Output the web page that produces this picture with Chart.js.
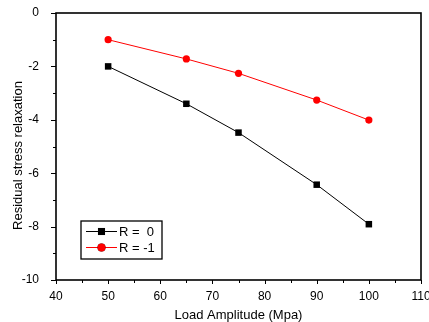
<!DOCTYPE html>
<html>
<head>
<meta charset="utf-8">
<script src="https://cdn.jsdelivr.net/npm/chart.js@4"></script>
<style>
html,body{margin:0;padding:0;background:#fff;}
#wrap{width:429px;height:322px;}
</style>
</head>
<body>
<div id="wrap"><canvas id="c" width="429" height="322"></canvas></div>
<script>
// ---- data ----
const loadAmplitude = [50, 65, 75, 90, 100];
const seriesR0 = [-2.0, -3.40, -4.48, -6.43, -7.91];
const seriesRm1 = [-1.0, -1.72, -2.26, -3.26, -4.01];
const seriesLabels = ['R =  0', 'R = -1'];
const xTickValues = [40, 50, 60, 70, 80, 90, 100, 110];
const yTickValues = [0, -2, -4, -6, -8, -10];
const xTitle = 'Load Amplitude (Mpa)';
const yTitle = 'Residual stress relaxation';

const FONT = '"Liberation Sans", Arial, sans-serif';

function pts(xs, ys){ return xs.map((x,i)=>({x:x, y:ys[i]})); }

const framePlugin = {
  id: 'frame',
  afterDraw(chart){
    const ctx = chart.ctx, a = chart.chartArea;
    const xs = chart.scales.x, ys = chart.scales.y;
    ctx.save();
    ctx.strokeStyle = '#000';
    // ticks
    ctx.lineWidth = 1;
    const xmin = xTickValues[0], xmax = xTickValues[xTickValues.length-1];
    for (let v = xmin; v <= xmax; v += 5) {
      const px = Math.round(xs.getPixelForValue(v)) + 0.5;
      const len = (v % 10 === 0) ? 4 : 3;
      ctx.beginPath(); ctx.moveTo(px, a.bottom); ctx.lineTo(px, a.bottom + len); ctx.stroke();
    }
    const ymin = yTickValues[yTickValues.length-1], ymax = yTickValues[0];
    for (let v = ymin; v <= ymax; v += 1) {
      const py = Math.round(ys.getPixelForValue(v)) + 0.5;
      const len = (v % 2 === 0) ? 5 : 3;
      ctx.beginPath(); ctx.moveTo(a.left, py); ctx.lineTo(a.left - len, py); ctx.stroke();
    }
    // frame
    ctx.lineWidth = 1.6;
    ctx.strokeRect(a.left, a.top, a.right - a.left, a.bottom - a.top);
    // y title
    ctx.fillStyle = '#000';
    ctx.font = '13px ' + FONT;
    ctx.textAlign = 'center';
    ctx.textBaseline = 'middle';
    ctx.translate(18.5, 155.5);
    ctx.rotate(-Math.PI/2);
    ctx.fillText(yTitle, 0, 0);
    ctx.restore();

    // legend
    ctx.save();
    const lx = 81, ly = 221, lw = 81, lh = 38;
    ctx.fillStyle = '#fff';
    ctx.fillRect(lx, ly, lw, lh);
    ctx.strokeStyle = '#000';
    ctx.lineWidth = 1.3;
    ctx.strokeRect(lx, ly, lw, lh);
    const rows = [231, 247];
    chart.data.datasets.forEach((ds, i) => {
      const y = rows[i];
      ctx.strokeStyle = ds.borderColor;
      ctx.lineWidth = 1;
      ctx.beginPath(); ctx.moveTo(86, y + 0.5); ctx.lineTo(117, y + 0.5); ctx.stroke();
      Chart.helpers.drawPoint(ctx, {pointStyle: ds.pointStyle, rotation: 0, radius: ds.pointRadius + 0.4, borderWidth: 0}, 101.5, y + 0.5);
      ctx.fillStyle = ds.pointBackgroundColor;
      ctx.fill();
      ctx.fillStyle = '#000';
      ctx.font = '13px ' + FONT;
      ctx.textAlign = 'left';
      ctx.textBaseline = 'middle';
      ctx.fillText(ds.label, 119, y + 1);
    });
    ctx.restore();
  }
};

new Chart(document.getElementById('c'), {
  type: 'line',
  data: {
    datasets: [
      { label: seriesLabels[0], data: pts(loadAmplitude, seriesR0),
        borderColor: '#000000', backgroundColor: '#000000',
        pointBackgroundColor: '#000000', pointBorderColor: '#000000',
        pointStyle: 'rect', pointRadius: 4.6, pointBorderWidth: 0, borderWidth: 1, tension: 0 },
      { label: seriesLabels[1], data: pts(loadAmplitude, seriesRm1),
        borderColor: '#ff0000', backgroundColor: '#ff0000',
        pointBackgroundColor: '#ff0000', pointBorderColor: '#ff0000',
        pointStyle: 'circle', pointRadius: 3.6, pointBorderWidth: 0, borderWidth: 1, tension: 0 }
    ]
  },
  options: {
    responsive: false,
    animation: false,
    devicePixelRatio: 1,
    layout: { padding: { top: 13, right: 8, left: 0, bottom: 0 } },
    plugins: { legend: { display: false }, tooltip: { enabled: false } },
    scales: {
      x: {
        type: 'linear',
        min: xTickValues[0], max: xTickValues[xTickValues.length-1],
        afterBuildTicks(s){ s.ticks = xTickValues.map(v=>({value:v})); },
        afterFit(s){ s.height = 42; s.paddingLeft = 0; s.paddingRight = 0; },
        grid: { display: false },
        border: { display: false },
        ticks: { color: '#000', font: { family: FONT, size: 12 }, padding: 1, maxRotation: 0,
                 callback: (v) => String(v) },
        title: { display: true, text: xTitle, color: '#000', font: { family: FONT, size: 13 },
                 padding: { top: 0, bottom: -1 } }
      },
      y: {
        type: 'linear',
        min: yTickValues[yTickValues.length-1], max: yTickValues[0],
        afterBuildTicks(s){ s.ticks = yTickValues.slice().reverse().map(v=>({value:v})); },
        afterFit(s){ s.width = 56; s.paddingTop = 0; s.paddingBottom = 0; },
        grid: { display: false },
        border: { display: false },
        ticks: { color: '#000', font: { family: FONT, size: 12 }, padding: 9,
                 callback: (v) => String(v) }
      }
    }
  },
  plugins: [framePlugin]
});
</script>
</body>
</html>
